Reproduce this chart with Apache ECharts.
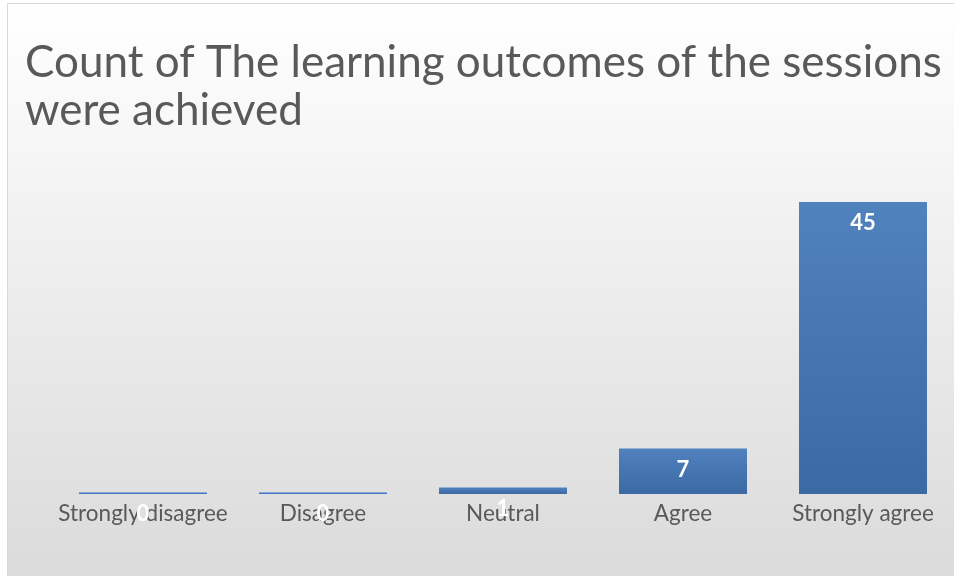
<!DOCTYPE html>
<html>
<head>
<meta charset="utf-8">
<script src="https://cdn.jsdelivr.net/npm/echarts@6/dist/echarts.min.js"></script>
<style>
  html, body { margin: 0; padding: 0; background: #fff; }
  #main { width: 954px; height: 576px; }
</style>
</head>
<body>
<div id="main"></div>
<script>
// 图表数据
var categories = ['Strongly disagree', 'Disagree', 'Neutral', 'Agree', 'Strongly agree'];
var counts = [0, 0, 1, 7, 45];
var titleText = 'Count of The learning outcomes of the sessions\nwere achieved';

var barGradient = new echarts.graphic.LinearGradient(0, 0, 0, 1, [
    { offset: 0, color: '#5082be' },
    { offset: 1, color: '#3b69a4' }
]);

// 0 值的柱子只画一条蓝线
var barData = counts.map(function (v) {
    return v === 0 ? { value: v, itemStyle: { color: '#4472c4' } } : v;
});

var myChart = echarts.init(document.getElementById('main'));
var option = {
    animation: false,
    textStyle: { fontFamily: 'Lato' },
    graphic: [
        {
            type: 'rect',
            silent: true,
            z: -10,
            shape: { x: 7.5, y: 3.5, width: 960, height: 600 },
            style: {
                fill: new echarts.graphic.LinearGradient(0, 0, 0, 1, [
                    { offset: 0, color: '#ffffff' },
                    { offset: 1, color: '#d9d9d9' }
                ]),
                stroke: '#d9d9d9',
                lineWidth: 1
            }
        }
    ],
    title: {
        text: titleText,
        left: 20,
        top: 34,
        textStyle: {
            fontFamily: 'Lato',
            fontSize: 44,
            fontWeight: 'normal',
            color: '#595959',
            lineHeight: 48
        }
    },
    grid: {
        left: 53,
        right: 1,
        top: 202,
        bottom: 82
    },
    xAxis: {
        type: 'category',
        data: categories,
        axisLine: { show: false },
        axisTick: { show: false },
        axisLabel: {
            color: '#595959',
            fontSize: 22.5,
            fontFamily: 'Lato',
            margin: 8,
            interval: 0
        }
    },
    yAxis: {
        type: 'value',
        min: 0,
        max: 45,
        show: false,
        splitLine: { show: false }
    },
    series: [
        {
            name: 'Count',
            type: 'bar',
            data: barData,
            barWidth: 128,
            barMinHeight: 1.5,
            itemStyle: {
                color: barGradient
            },
            label: {
                show: true,
                position: 'insideTop',
                distance: 10,
                color: '#ffffff',
                fontSize: 22,
                fontWeight: 'bold',
                fontFamily: 'Lato'
            }
        }
    ]
};
myChart.setOption(option);
</script>
</body>
</html>
